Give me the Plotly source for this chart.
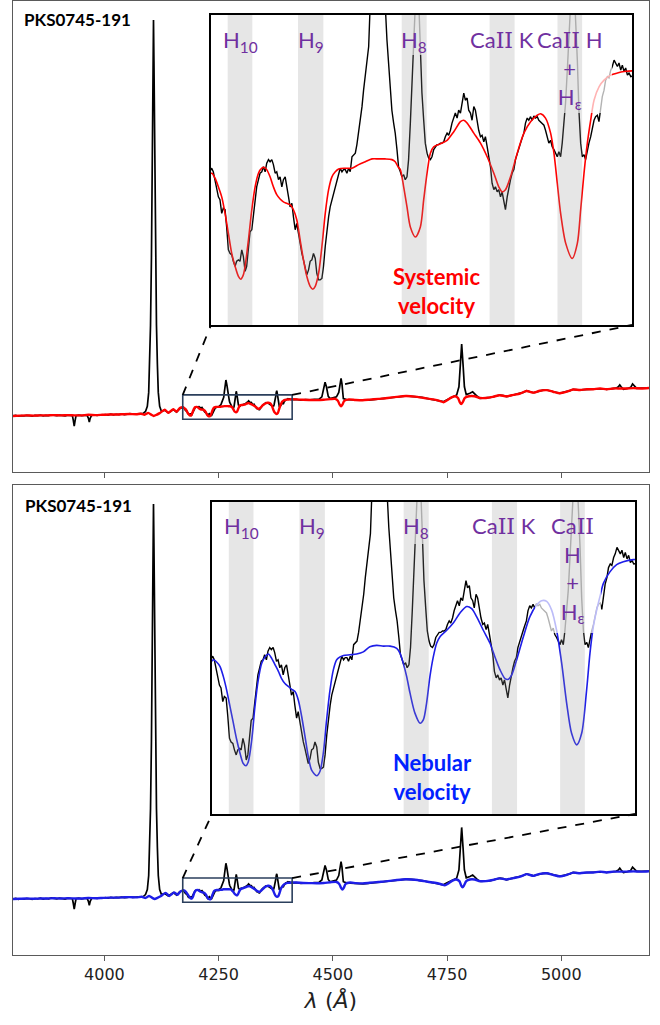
import plotly.graph_objects as go

# ---------------- data (wavelength in Angstrom, flux in arbitrary units) ----------------
obs_wave = [3800, 3806, 3812, 3818, 3824, 3830, 3836, 3842, 3848, 3854, 3860, 3866, 3872, 3878, 3884, 3890,
            3896, 3902, 3908, 3914, 3920, 3926, 3930, 3932, 3934, 3936, 3938, 3944, 3950, 3956, 3962, 3965,
            3967, 3969, 3972, 3978, 3984, 3990, 3996, 4002, 4008, 4014, 4020, 4026, 4032, 4038, 4044, 4050,
            4056, 4062, 4068, 4074, 4080, 4085,
            4090, 4094, 4097, 4099, 4101, 4103, 4105, 4106.5, 4107.5, 4108.5, 4110, 4112, 4114, 4116, 4118,
            4121, 4125, 4132, 4140, 4151, 4158, 4165,
            4171.9, 4172.8, 4173.8, 4174.7, 4175.7, 4176.6, 4177.6, 4178.5, 4179.5, 4180.4, 4181.4, 4182.3,
            4183.3, 4184.2, 4185.2, 4186.1, 4187.1, 4188.0, 4189.0, 4189.9, 4190.9, 4191.8, 4192.8, 4193.7,
            4194.7, 4195.6, 4196.6, 4197.5, 4198.5, 4199.4, 4200.4, 4201.3, 4202.3, 4203.2, 4204.2, 4205.1,
            4206.1, 4207.0, 4208.0, 4208.9, 4209.9, 4210.8, 4211.8, 4212.7, 4213.7, 4214.6, 4215.6, 4216.5,
            4217.5, 4218.4, 4219.4, 4220.3, 4221.3, 4222.2, 4223.2, 4224.1, 4225.1, 4226.0, 4227.0, 4227.9,
            4228.9, 4229.8, 4230.8, 4231.7, 4232.7, 4233.6, 4234.6, 4235.5, 4236.5, 4237.4, 4238.4, 4239.3,
            4240.3, 4241.2, 4242.2, 4243.1, 4244.1, 4245.0, 4246.0, 4246.9, 4247.9, 4248.8, 4249.8, 4250.7,
            4251.7, 4252.6, 4253.6, 4254.5, 4255.5, 4256.4, 4257.4, 4258.3, 4259.3, 4260.2, 4261.2, 4262.5,
            4264.0, 4266.0, 4268.0, 4270.0, 4271.6, 4272.5, 4273.5, 4274.4, 4275.4, 4276.3, 4277.3, 4278.2,
            4279.2, 4280.1, 4281.1, 4282.0, 4283.0, 4283.9, 4284.9, 4285.8, 4286.8, 4287.6, 4288.6, 4289.6,
            4290.6, 4291.5, 4292.5, 4293.4, 4294.4, 4295.3, 4296.3, 4297.2, 4298.2, 4299.1, 4300.1, 4301.0,
            4302.0, 4302.9, 4303.9, 4304.8, 4305.8, 4306.7, 4307.7, 4308.6, 4309.6, 4310.5, 4311.5, 4312.4,
            4313.4, 4314.3, 4315.3, 4316.2, 4317.2, 4318.1, 4319.1, 4320.0, 4321.0, 4321.9, 4322.9, 4323.8,
            4324.8, 4325.7, 4326.7, 4327.6, 4328.6, 4329.5, 4330.5, 4331.4, 4332.4, 4333.3, 4334.3, 4335.2,
            4336.2, 4337.1, 4338.1, 4339.0, 4340.0, 4340.9, 4341.9, 4342.8, 4343.8, 4344.7, 4345.7, 4346.6,
            4347.6, 4348.5, 4349.5, 4350.4, 4351.4, 4352.3, 4353.3, 4354.2, 4355.2, 4356.1, 4357.1, 4358.0,
            4359.0, 4359.9, 4360.9, 4361.8, 4362.8, 4363.7, 4364.7, 4365.6, 4366.6, 4367.5, 4368.5, 4369.4,
            4370.4, 4371.3, 4372.3, 4373.2, 4374.2, 4375.1, 4376.2, 4377.3, 4378.0, 4378.9, 4379.9, 4380.8,
            4381.8, 4382.7, 4383.7, 4384.6, 4385.6, 4386.5, 4387.5, 4388.4, 4389.4, 4390.3, 4391.3, 4392.2,
            4393.2, 4394.1, 4395.1, 4396.0, 4397.0, 4397.9, 4398.9, 4399.8, 4400.8, 4401.7, 4402.7, 4403.6,
            4404.6, 4405.5, 4406.5, 4407.4, 4408.4, 4409.3, 4410.3,
            4412, 4420, 4430, 4440, 4450, 4460, 4470, 4476, 4480, 4483, 4486, 4490, 4494, 4500, 4508, 4513,
            4516, 4518, 4520, 4523, 4530, 4545, 4556, 4566, 4577, 4588, 4600, 4618, 4630, 4640, 4650, 4662,
            4672, 4683, 4695, 4705, 4716, 4727, 4735, 4742, 4750, 4756, 4764, 4771, 4776, 4779, 4782, 4785,
            4788, 4792, 4796, 4800, 4806, 4811, 4816, 4822, 4830, 4837, 4845, 4851, 4858, 4866, 4873, 4880,
            4888, 4895, 4902, 4910, 4917, 4924, 4931, 4939, 4946, 4953, 4960, 4968, 4975, 4982, 4990, 4997,
            5004, 5012, 5019, 5026, 5034, 5041, 5048, 5056, 5063, 5070, 5077, 5085, 5092, 5099, 5106, 5114,
            5120, 5125, 5128, 5131, 5136, 5145, 5152, 5156, 5159, 5165, 5175, 5185, 5192]
obs_flux = [0.98, 0.99, 0.975, 0.985, 0.98, 0.99, 0.985, 0.975, 0.99, 0.985, 0.995, 0.98, 0.99, 0.985, 1.0, 0.99,
            0.985, 0.995, 0.99, 0.98, 0.995, 0.99, 0.985, 0.90, 0.80, 0.90, 0.985, 0.995, 0.985, 0.99, 0.995, 0.94,
            0.87, 0.94, 0.99, 1.0, 0.99, 1.0, 0.995, 1.005, 0.995, 1.01, 1.0, 1.01, 1.005, 1.015, 1.005, 1.01,
            1.02, 1.01, 1.015, 1.01, 1.02, 1.025,
            1.06, 1.15, 1.4, 1.9, 2.6, 3.8, 5.6, 7.3, 8.04, 7.3, 5.6, 3.8, 2.6, 1.9, 1.4,
            1.15, 1.06, 1.08, 1.035, 1.095, 1.05, 1.11,
            1.141, 1.136, 1.125, 1.115, 1.101, 1.097, 1.078, 1.085, 1.083, 1.059, 1.027, 1.022,
            1.020, 1.011, 1.004, 1.011, 1.013, 1.011, 1.027, 1.018, 0.997, 1.004, 1.032, 1.052,
            1.055, 1.073, 1.097, 1.115, 1.125, 1.134, 1.136, 1.143, 1.136, 1.148, 1.153, 1.150,
            1.153, 1.146, 1.134, 1.136, 1.125, 1.129, 1.115, 1.125, 1.129, 1.118, 1.101, 1.087,
            1.092, 1.073, 1.055, 1.064, 1.050, 1.032, 1.022, 1.013, 0.999, 0.992, 0.999, 1.011,
            1.013, 1.022, 1.015, 0.994, 0.985, 0.985, 0.987, 1.004, 1.032, 1.055, 1.073, 1.087,
            1.097, 1.106, 1.115, 1.125, 1.134, 1.141, 1.136, 1.139, 1.139, 1.134, 1.141, 1.136,
            1.157, 1.160, 1.162, 1.174, 1.190, 1.208, 1.227, 1.250, 1.269, 1.288, 1.311, 1.40,
            1.54, 1.62, 1.54, 1.40, 1.320, 1.283, 1.250, 1.222, 1.204, 1.190, 1.167, 1.143,
            1.136, 1.129, 1.132, 1.125, 1.129, 1.153, 1.204, 1.274, 1.320, 1.38, 1.42, 1.38,
            1.292, 1.246, 1.208, 1.176, 1.162, 1.155, 1.153, 1.157, 1.167, 1.171, 1.174, 1.174,
            1.176, 1.176, 1.178, 1.185, 1.190, 1.187, 1.194, 1.204, 1.213, 1.218, 1.211, 1.222,
            1.218, 1.232, 1.246, 1.236, 1.239, 1.222, 1.218, 1.208, 1.227, 1.222, 1.204, 1.194,
            1.185, 1.187, 1.178, 1.185, 1.171, 1.157, 1.143, 1.120, 1.111, 1.115, 1.108, 1.111,
            1.101, 1.108, 1.094, 1.083, 1.101, 1.115, 1.125, 1.134, 1.139, 1.153, 1.162, 1.169,
            1.176, 1.183, 1.190, 1.204, 1.211, 1.208, 1.213, 1.208, 1.214, 1.211, 1.213, 1.208,
            1.206, 1.204, 1.201, 1.194, 1.185, 1.176, 1.180, 1.171, 1.167, 1.162, 1.157, 1.164,
            1.157, 1.176, 1.208, 1.232, 1.278, 1.334, 1.40, 1.43, 1.40, 1.355, 1.292, 1.222,
            1.176, 1.157, 1.160, 1.153, 1.167, 1.176, 1.185, 1.199, 1.208, 1.213, 1.215, 1.206,
            1.227, 1.241, 1.250, 1.264, 1.269, 1.267, 1.278, 1.283, 1.292, 1.288, 1.283, 1.288,
            1.278, 1.285, 1.276, 1.281, 1.271, 1.274, 1.269,
            1.27, 1.275, 1.26, 1.27, 1.265, 1.275, 1.28, 1.32, 1.50, 1.58, 1.50, 1.33, 1.29, 1.30, 1.32, 1.40,
            1.60, 1.65, 1.55, 1.29, 1.27, 1.264, 1.255, 1.252, 1.26, 1.27, 1.28, 1.294, 1.31, 1.323, 1.33, 1.335,
            1.33, 1.323, 1.31, 1.294, 1.28, 1.264, 1.25, 1.234, 1.27, 1.294, 1.33, 1.353, 1.50, 1.9, 2.26, 1.9,
            1.5, 1.36, 1.37, 1.384, 1.41, 1.36, 1.33, 1.294, 1.30, 1.294, 1.31, 1.323, 1.34, 1.353, 1.345, 1.323,
            1.34, 1.353, 1.37, 1.384, 1.40, 1.43, 1.41, 1.394, 1.41, 1.43, 1.44, 1.442, 1.43, 1.412, 1.40, 1.384,
            1.40, 1.412, 1.43, 1.455, 1.445, 1.442, 1.45, 1.455, 1.46, 1.455, 1.465, 1.473, 1.465, 1.455, 1.465, 1.473,
            1.475, 1.50, 1.532, 1.50, 1.455, 1.47, 1.49, 1.549, 1.52, 1.473, 1.475, 1.47, 1.478]

sys_wave = [3800, 3815, 3830, 3845, 3860, 3875, 3890, 3905, 3920, 3935, 3950, 3965, 3980, 3995, 4010, 4025,
            4040, 4055, 4070, 4080, 4088, 4096, 4103, 4108, 4114, 4121, 4132, 4140, 4151, 4158, 4165,
            4171.9, 4173.8, 4175.7, 4177.6, 4179.5, 4181.4, 4183.3, 4185.2, 4187.1, 4188.4, 4189.9, 4190.9,
            4192.8, 4194.7, 4196.6, 4198.5, 4200.4, 4201.9, 4203.2, 4205.1, 4207.0, 4208.9, 4210.8, 4212.7,
            4214.6, 4216.5, 4218.4, 4220.3, 4222.2, 4224.1, 4226.0, 4227.9, 4229.4, 4230.8, 4232.7, 4234.6,
            4236.5, 4238.4, 4240.3, 4242.2, 4244.1, 4247.9, 4251.7, 4255.5, 4259.3, 4263.1, 4266.9, 4270.6,
            4274.4, 4276.3, 4277.9, 4279.2, 4281.1, 4283.0, 4284.9, 4287.8, 4290.6, 4292.5, 4294.4, 4296.3,
            4298.2, 4302.0, 4305.8, 4309.6, 4313.4, 4315.3, 4317.2, 4321.0, 4324.8, 4328.6, 4332.4, 4335.2,
            4337.1, 4339.0, 4341.9, 4345.7, 4349.5, 4353.3, 4357.1, 4359.0, 4361.8, 4364.7, 4366.6, 4368.5,
            4370.4, 4373.3, 4377.0, 4379.9, 4381.8, 4383.7, 4385.6, 4387.5, 4389.4, 4392.3, 4395.1, 4398.9,
            4402.7, 4406.5, 4411.2,
            4420, 4435, 4450, 4465, 4480, 4495, 4505, 4511, 4515, 4518, 4521, 4525, 4535, 4550, 4565, 4580,
            4600, 4620, 4640, 4660, 4680, 4700, 4720, 4735, 4742, 4750, 4760, 4768, 4774, 4778, 4781, 4784,
            4789, 4798, 4810, 4822, 4835, 4850, 4865, 4880, 4895, 4910, 4924, 4939, 4953, 4968, 4982, 4997,
            5012, 5026, 5041, 5056, 5070, 5085, 5099, 5114, 5128, 5143, 5158, 5175, 5192]
sys_flux = [0.98, 0.985, 0.99, 0.985, 0.99, 0.99, 0.995, 0.99, 0.995, 0.99, 0.99, 1.0, 0.995, 1.0, 1.005, 1.005,
            1.01, 1.015, 1.01, 1.02, 1.0, 1.035, 1.0, 0.98, 1.0, 1.03, 1.09, 1.035, 1.10, 1.055, 1.12,
            1.134, 1.127, 1.115, 1.101, 1.078, 1.050, 1.022, 1.004, 0.990, 0.986, 0.992, 1.004,
            1.041, 1.083, 1.115, 1.134, 1.141, 1.142, 1.139, 1.129, 1.115, 1.104, 1.098, 1.094,
            1.092, 1.090, 1.083, 1.069, 1.041, 1.013, 0.990, 0.976, 0.972, 0.976, 0.994, 1.032,
            1.078, 1.111, 1.129, 1.136, 1.140, 1.141, 1.141, 1.146, 1.150, 1.154, 1.154, 1.154,
            1.153, 1.150, 1.143, 1.139, 1.115, 1.087, 1.059, 1.045, 1.059, 1.097, 1.134, 1.162,
            1.171, 1.175, 1.180, 1.192, 1.206, 1.208, 1.204, 1.190, 1.176, 1.157, 1.134, 1.115,
            1.108, 1.111, 1.129, 1.162, 1.190, 1.206, 1.215, 1.217, 1.211, 1.190, 1.162, 1.120,
            1.078, 1.036, 1.015, 1.036, 1.083, 1.134, 1.176, 1.208, 1.236, 1.255, 1.264, 1.271,
            1.274, 1.276, 1.277,
            1.275, 1.268, 1.265, 1.262, 1.268, 1.28, 1.285, 1.25, 1.18, 1.15, 1.18, 1.25, 1.275, 1.265, 1.26, 1.27,
            1.285, 1.30, 1.32, 1.335, 1.325, 1.30, 1.275, 1.245, 1.225, 1.26, 1.31, 1.33, 1.30, 1.22, 1.19, 1.22,
            1.30, 1.33, 1.33, 1.30, 1.30, 1.32, 1.35, 1.33, 1.355, 1.38, 1.425, 1.395, 1.43, 1.44, 1.412, 1.385,
            1.412, 1.452, 1.442, 1.455, 1.455, 1.47, 1.455, 1.47, 1.47, 1.47, 1.475, 1.47, 1.478]

neb_wave = [3800, 3815, 3830, 3845, 3860, 3875, 3890, 3905, 3920, 3935, 3950, 3965, 3980, 3995, 4010, 4025,
            4040, 4055, 4070, 4082, 4090, 4098, 4105, 4110, 4116, 4123, 4134, 4142, 4153, 4160, 4166,
            4172.3, 4174.1, 4176.0, 4177.9, 4179.8, 4181.7, 4183.6, 4185.5, 4187.4, 4189.2, 4190.8, 4192.1,
            4194.0, 4195.8, 4197.7, 4199.6, 4201.5, 4203.4, 4205.3, 4207.2, 4209.1, 4210.9, 4212.8, 4214.7,
            4216.6, 4218.5, 4220.4, 4222.3, 4224.2, 4226.0, 4227.9, 4230.8, 4232.6, 4234.5, 4236.4, 4238.3,
            4240.2, 4242.1, 4244.0, 4245.9, 4249.6, 4253.4, 4257.2, 4260.9, 4264.7, 4268.5, 4272.3, 4276.1,
            4278.0, 4279.8, 4281.7, 4283.6, 4286.4, 4289.3, 4291.2, 4293.0, 4294.9, 4296.8, 4298.7, 4300.6,
            4304.4, 4308.1, 4311.9, 4315.7, 4318.5, 4321.3, 4325.1, 4328.9, 4331.7, 4334.6, 4337.4, 4339.3,
            4341.2, 4344.0, 4347.8, 4351.5, 4355.3, 4358.1, 4361.0, 4363.8, 4366.6, 4369.5, 4372.3, 4375.1,
            4378.0, 4380.8, 4383.6, 4385.5, 4387.4, 4389.3, 4391.2, 4393.1, 4396.8, 4400.6, 4404.4, 4410.0,
            4420, 4435, 4450, 4465, 4480, 4495, 4508, 4514, 4518, 4521, 4524, 4528, 4538, 4550, 4565, 4580,
            4600, 4620, 4640, 4660, 4680, 4700, 4720, 4737, 4745, 4753, 4762, 4770, 4777, 4781, 4784, 4787,
            4792, 4800, 4810, 4822, 4835, 4850, 4865, 4880, 4895, 4910, 4924, 4939, 4953, 4968, 4982, 4997,
            5012, 5026, 5041, 5056, 5070, 5085, 5099, 5114, 5128, 5143, 5158, 5175, 5192]
neb_flux = [0.98, 0.985, 0.99, 0.985, 0.99, 0.99, 0.995, 0.99, 0.995, 0.99, 0.99, 1.0, 0.995, 1.0, 1.005, 1.005,
            1.01, 1.015, 1.01, 1.02, 1.0, 1.035, 1.0, 0.98, 1.0, 1.03, 1.09, 1.035, 1.10, 1.055, 1.11,
            1.136, 1.133, 1.127, 1.113, 1.094, 1.071, 1.048, 1.025, 1.006, 0.992, 0.989, 0.995,
            1.025, 1.071, 1.108, 1.131, 1.140, 1.144, 1.138, 1.129, 1.120, 1.110, 1.103, 1.099,
            1.095, 1.092, 1.080, 1.057, 1.029, 1.002, 0.983, 0.975, 0.981, 1.006, 1.053, 1.094,
            1.122, 1.136, 1.140, 1.142, 1.143, 1.144, 1.147, 1.154, 1.156, 1.155, 1.155, 1.152,
            1.145, 1.131, 1.113, 1.090, 1.062, 1.048, 1.053, 1.076, 1.113, 1.140, 1.159, 1.168,
            1.177, 1.187, 1.201, 1.210, 1.207, 1.196, 1.177, 1.159, 1.140, 1.122, 1.110, 1.109,
            1.115, 1.136, 1.168, 1.196, 1.212, 1.218, 1.217, 1.205, 1.177, 1.131, 1.076, 1.034,
            1.018, 1.034, 1.094, 1.145, 1.182, 1.205, 1.224, 1.242, 1.258, 1.268, 1.272, 1.275,
            1.275, 1.268, 1.265, 1.262, 1.268, 1.28, 1.285, 1.25, 1.18, 1.15, 1.18, 1.25, 1.275, 1.265, 1.26, 1.27,
            1.285, 1.30, 1.32, 1.335, 1.325, 1.30, 1.275, 1.245, 1.225, 1.26, 1.31, 1.33, 1.30, 1.22, 1.19, 1.22,
            1.30, 1.33, 1.33, 1.30, 1.30, 1.32, 1.35, 1.33, 1.355, 1.38, 1.425, 1.395, 1.43, 1.44, 1.412, 1.385,
            1.412, 1.452, 1.442, 1.455, 1.455, 1.47, 1.455, 1.47, 1.47, 1.47, 1.475, 1.47, 1.478]

tick_vals = [4000, 4250, 4500, 4750, 5000]
band_lo = [4181.0, 4221.0, 4280.0, 4330.0, 4368.6]
band_hi = [4195.0, 4235.4, 4294.2, 4344.2, 4382.6]
CA2 = "Ca<span style=\"font-family:'DejaVu Serif'\">II</span>"
top_labels = ["H<sub>10</sub>", "H<sub>9</sub>", "H<sub>8</sub>", CA2 + " K", CA2 + " H<br>+<br>H<sub>ε</sub>"]
bot_labels = ["H<sub>10</sub>", "H<sub>9</sub>", "H<sub>8</sub>", CA2 + " K", CA2 + "<br>H<br>+<br>H<sub>ε</sub>"]
object_name = "PKS0745-191"
model_names = ["Systemic<br>velocity", "Nebular<br>velocity"]

MAIN_X = [3800, 5192]
MAIN_Y = [-0.02, 8.38]
ZOOM_X = [4171.5, 4411.0]
ZOOM_Y = [0.922, 1.355]

# ---------------- layout helpers ----------------
W, H = 660, 1025
def px(x):
    return x / W
def py(y):
    return 1 - y / H

main_xdom = [px(13), px(649)]
top_ydom = [py(472), py(1)]
bot_ydom = [py(955), py(485)]
top_in_x = [px(211), px(632)]
top_in_y = [py(325), py(15)]
bot_in_x = [px(212), px(635)]
bot_in_y = [py(814), py(502)]

PURPLE = "#7030A0"
RED = "#FF0000"
BLUE = "#1E1EE8"

fig = go.Figure()

def add_panel(xa, ya, xi, yi, model_w, model_f, color):
    fig.add_trace(go.Scatter(x=obs_wave, y=obs_flux, mode="lines", xaxis=xa, yaxis=ya,
                             line=dict(color="black", width=1.7), hoverinfo="skip", showlegend=False))
    fig.add_trace(go.Scatter(x=model_w, y=model_f, mode="lines", xaxis=xa, yaxis=ya,
                             line=dict(color=color, width=2.4, shape="spline", smoothing=0.6),
                             hoverinfo="skip", showlegend=False))
    fig.add_trace(go.Scatter(x=obs_wave, y=obs_flux, mode="lines", xaxis=xi, yaxis=yi,
                             line=dict(color="black", width=1.4), hoverinfo="skip", showlegend=False))
    fig.add_trace(go.Scatter(x=model_w, y=model_f, mode="lines", xaxis=xi, yaxis=yi,
                             line=dict(color=color, width=1.6, shape="spline", smoothing=0.8),
                             hoverinfo="skip", showlegend=False))

add_panel("x", "y", "x3", "y3", sys_wave, sys_flux, RED)
add_panel("x2", "y2", "x4", "y4", neb_wave, neb_flux, BLUE)

frame = dict(showline=True, linecolor="#5a5a5a", linewidth=1.3, mirror=True, showgrid=False, zeroline=False)
inset_frame = dict(showline=True, linecolor="black", linewidth=2, mirror=True, showgrid=False, zeroline=False,
                   ticks="", showticklabels=False)

fig.update_layout(
    width=W, height=H, margin=dict(l=0, r=0, t=0, b=0),
    paper_bgcolor="white", plot_bgcolor="white", showlegend=False,
    xaxis=dict(domain=main_xdom, range=MAIN_X, anchor="y", tickvals=tick_vals, ticks="outside",
               ticklen=5, tickcolor="#5a5a5a", showticklabels=False, **frame),
    yaxis=dict(domain=top_ydom, range=MAIN_Y, anchor="x", ticks="", showticklabels=False, **frame),
    xaxis2=dict(domain=main_xdom, range=MAIN_X, anchor="y2", tickvals=tick_vals, ticks="outside",
                ticklen=5, tickcolor="#5a5a5a", showticklabels=True,
                tickfont=dict(family="DejaVu Sans", size=16, color="#222"),
                title=dict(text="<i>λ</i> (<i>Å</i>)", font=dict(family="DejaVu Sans", size=22, color="#222"),
                           standoff=9), automargin=False, **frame),
    yaxis2=dict(domain=bot_ydom, range=MAIN_Y, anchor="x2", ticks="", showticklabels=False, **frame),
    xaxis3=dict(domain=top_in_x, range=ZOOM_X, anchor="y3", **inset_frame),
    yaxis3=dict(domain=top_in_y, range=ZOOM_Y, anchor="x3", **inset_frame),
    xaxis4=dict(domain=bot_in_x, range=ZOOM_X, anchor="y4", **inset_frame),
    yaxis4=dict(domain=bot_in_y, range=ZOOM_Y, anchor="x4", **inset_frame),
)

shapes = []

def to_paper(xv, yv, xdom, ydom):
    xp = xdom[0] + (xv - MAIN_X[0]) / (MAIN_X[1] - MAIN_X[0]) * (xdom[1] - xdom[0])
    yp = ydom[0] + (yv - MAIN_Y[0]) / (MAIN_Y[1] - MAIN_Y[0]) * (ydom[1] - ydom[0])
    return xp, yp

for xa, ya, ydom, ixd, iyd in [("x", "y", top_ydom, top_in_x, top_in_y), ("x2", "y2", bot_ydom, bot_in_x, bot_in_y)]:
    shapes.append(dict(type="rect", xref=xa, yref=ya, x0=ZOOM_X[0], x1=ZOOM_X[1], y0=ZOOM_Y[0], y1=ZOOM_Y[1],
                       line=dict(color="#2B3F5C", width=1.6), fillcolor="rgba(0,0,0,0)", layer="above"))
    lx, ly = to_paper(ZOOM_X[0], ZOOM_Y[1], main_xdom, ydom)
    rx, ry = to_paper(ZOOM_X[1], ZOOM_Y[1], main_xdom, ydom)
    shapes.append(dict(type="line", xref="paper", yref="paper", x0=lx, y0=ly, x1=ixd[0], y1=iyd[0],
                       line=dict(color="black", width=1.8, dash="dash"), layer="above"))
    shapes.append(dict(type="line", xref="paper", yref="paper", x0=rx, y0=ry, x1=ixd[1], y1=iyd[0],
                       line=dict(color="black", width=1.8, dash="dash"), layer="above"))

# semi-transparent white label backgrounds (lighten lines under labels)
label_boxes = [(407, 15, 437, 55), (538, 15, 612, 113), (408, 502, 438, 544), (535, 502, 601, 633)]
for (x0, y0, x1, y1) in label_boxes:
    shapes.append(dict(type="rect", xref="paper", yref="paper", x0=px(x0), x1=px(x1), y0=py(y1), y1=py(y0),
                       line=dict(width=0), fillcolor="rgba(255,255,255,0.7)", layer="above"))

for xi in ["x3", "x4"]:
    for lo, hi in zip(band_lo, band_hi):
        shapes.append(dict(type="rect", xref=xi, yref=xi.replace("x", "y") + " domain", x0=lo, x1=hi, y0=0, y1=1,
                           line=dict(width=0), fillcolor="rgba(150,150,150,0.24)", layer="above"))

fig.update_layout(shapes=shapes)

ann = []
centers = [(lo + hi) / 2 for lo, hi in zip(band_lo, band_hi)]
for i, txt in enumerate(top_labels):
    ann.append(dict(text=txt, x=centers[i], xref="x3", y=py(24), yref="paper", xanchor="center", yanchor="top",
                    showarrow=False, font=dict(family="Lato", size=22, color=PURPLE)))
for i, txt in enumerate(bot_labels):
    ann.append(dict(text=txt, x=centers[i], xref="x4", y=py(510), yref="paper", xanchor="center", yanchor="top",
                    showarrow=False, font=dict(family="Lato", size=22, color=PURPLE)))
ann.append(dict(text="<b>" + object_name + "</b>", x=px(22), y=py(19.5), xref="paper", yref="paper",
                xanchor="left", yanchor="middle", showarrow=False,
                font=dict(family="Lato", size=17, color="black")))
ann.append(dict(text="<b>" + object_name + "</b>", x=px(23), y=py(505.5), xref="paper", yref="paper",
                xanchor="left", yanchor="middle", showarrow=False,
                font=dict(family="Lato", size=17, color="black")))
ann.append(dict(text="<b>" + model_names[0] + "</b>", x=px(436), y=py(291), xref="paper", yref="paper",
                xanchor="center", yanchor="middle", showarrow=False,
                font=dict(family="Lato", size=22, color=RED)))
ann.append(dict(text="<b>" + model_names[1] + "</b>", x=px(433), y=py(777), xref="paper", yref="paper",
                xanchor="center", yanchor="middle", showarrow=False,
                font=dict(family="Lato", size=22, color="#0022FF")))
fig.update_layout(annotations=ann)

fig.write_html("out.html", config={"displayModeBar": False},
               post_script="document.body.style.margin='0';")
